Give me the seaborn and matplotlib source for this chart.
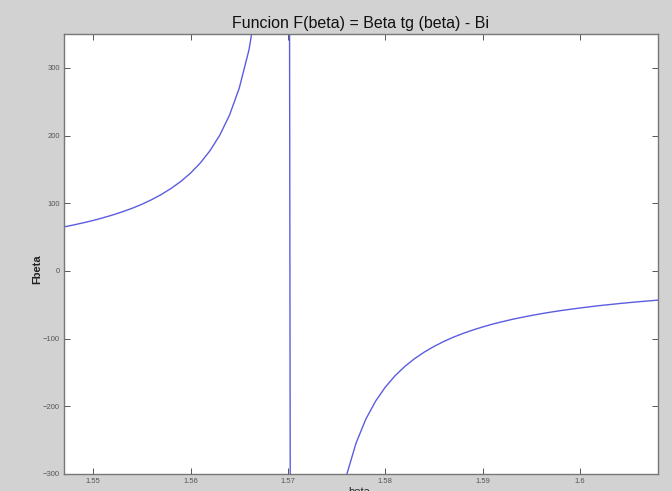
import matplotlib
matplotlib.use("Agg")
import matplotlib.pyplot as plt
import seaborn as sns
import pandas as pd

# Sample positions (step 0.001) and F(beta) values read/
beta = [1.547, 1.548, 1.549, 1.550, 1.551, 1.552, 1.553, 1.554, 1.555, 1.556,
        1.557, 1.558, 1.559, 1.560, 1.561, 1.562, 1.563, 1.564, 1.565, 1.566,
        1.567, 1.568, 1.569, 1.570, 1.571, 1.572, 1.573, 1.574, 1.575, 1.576,
        1.577, 1.578, 1.579, 1.580, 1.581, 1.582, 1.583, 1.584, 1.585, 1.586,
        1.587, 1.588, 1.589, 1.590, 1.591, 1.592, 1.593, 1.594, 1.595, 1.596,
        1.597, 1.598, 1.599, 1.600, 1.601, 1.602, 1.603, 1.604, 1.605, 1.606,
        1.607, 1.608]
fbeta = [65.0, 67.9, 71.1, 74.5, 78.4, 82.6, 87.3, 92.5, 98.4, 105.2,
         112.9, 121.8, 132.2, 144.5, 159.4, 177.6, 200.5, 230.1, 270.0, 326.5,
         412.8, 560.8, 873.6, 1972.0, -7701.0, -1305.7, -713.7, -491.3, -374.6, -302.8,
         -254.2, -219.0, -192.5, -171.7, -154.9, -141.2, -129.7, -120.0, -111.6, -104.3,
         -97.9, -92.3, -87.3, -82.8, -78.7, -75.1, -71.7, -68.7, -65.9, -63.3,
         -60.9, -58.7, -56.7, -54.8, -53.0, -51.3, -49.8, -48.3, -46.9, -45.6,
         -44.4, -43.2]

x_ticks = [1.55, 1.56, 1.57, 1.58, 1.59, 1.60]
x_tick_labels = ["1.55", "1.56", "1.57", "1.58", "1.59", "1.6"]
y_ticks = [-300, -200, -100, 0, 100, 200, 300]
title = "Funcion F(beta) = Beta tg (beta) - Bi"

df = pd.DataFrame({"beta": beta, "Fbeta": fbeta})

sns.set_theme(style="white")
plt.rcParams["font.family"] = ["Liberation Sans", "DejaVu Sans"]

fig = plt.figure(figsize=(6.72, 4.91), dpi=100, facecolor="#d2d2d2")
ax = fig.add_axes([0.0952, 0.0347, 0.8839, 0.8961])
ax.set_facecolor("white")

sns.lineplot(data=df, x="beta", y="Fbeta", sort=False, estimator=None,
             color="#5c5ce0", linewidth=1.0, ax=ax)

ax.set_xlim(1.547, 1.608)
ax.set_ylim(-300, 350)
ax.set_xticks(x_ticks)
ax.set_xticklabels(x_tick_labels)
ax.set_yticks(y_ticks)
ax.tick_params(direction="in", length=4, width=0.7, colors="#555555",
               labelsize=5.5, labelcolor="#555555",
               top=True, right=True, bottom=True, left=True, pad=3)
for s in ax.spines.values():
    s.set_color("#777777")
    s.set_linewidth(1.0)

ax.set_title(title, fontsize=11.5, color="#111111", pad=4)
ax.set_xlabel("beta", fontsize=8, color="#222222")
ax.xaxis.set_label_coords(0.497, -0.03)
ax.set_ylabel("Fbeta", fontsize=8, color="#222222", fontweight="bold")
ax.yaxis.set_label_coords(-0.036, 0.466)

fig.savefig("out.png", dpi=100, facecolor=fig.get_facecolor())
